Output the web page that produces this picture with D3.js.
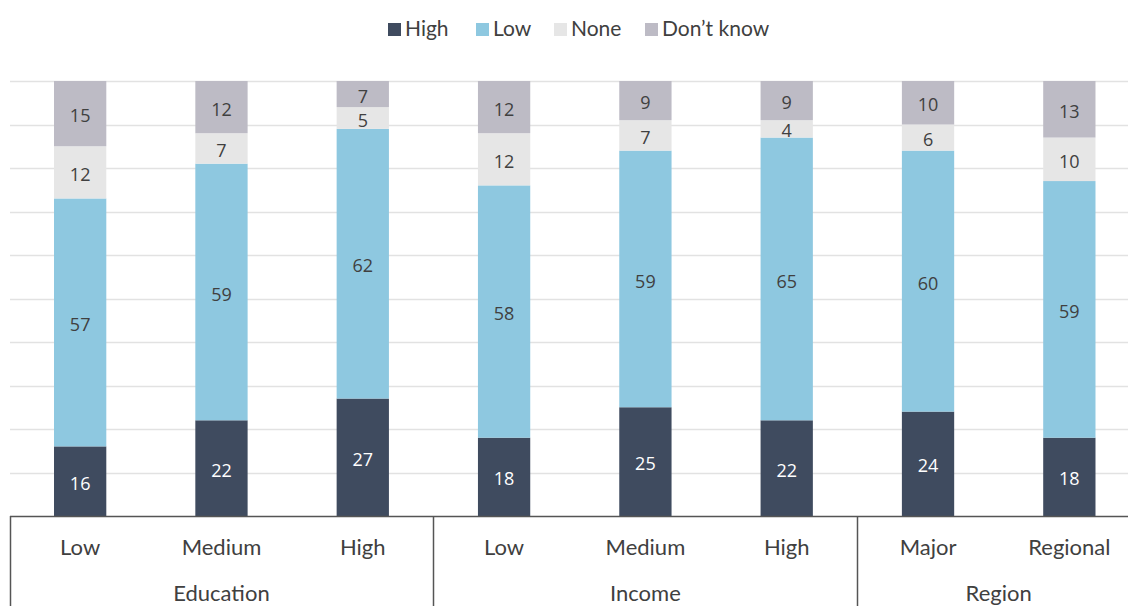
<!DOCTYPE html>
<html>
<head>
<meta charset="utf-8">
<script src="https://cdn.jsdelivr.net/npm/d3@7"></script>
<style>
  html, body { margin: 0; padding: 0; background: #fff; }
  svg { display: block; }
</style>
</head>
<body>
<svg id="chart" width="1128" height="606"></svg>
<script>
// Categories and their grouping
const categories = ["Low", "Medium", "High", "Low", "Medium", "High", "Major", "Regional"];
const groups = ["Education", "Education", "Education", "Income", "Income", "Income", "Region", "Region"];
const groupNames = ["Education", "Income", "Region"];

// Series values (percent)
const seriesNames = ["High", "Low", "None", "Don\u2019t know"];
const highValues = [16, 22, 27, 18, 25, 22, 24, 18];
const lowValues = [57, 59, 62, 58, 59, 65, 60, 59];
const noneValues = [12, 7, 5, 12, 7, 4, 6, 10];
const dontKnowValues = [15, 12, 7, 12, 9, 9, 10, 13];

const colors = ["#3f4b5f", "#8ec8e0", "#e6e6e6", "#bdbbc5"];
const labelColors = ["#ffffff", "#404040", "#404040", "#404040"];

const svg = d3.select("#chart");
const plotTop = 81, plotBottom = 516;

const rows = categories.map((c, i) => ({
  idx: i, cat: c, group: groups[i],
  High: highValues[i], Low: lowValues[i], None: noneValues[i], "Don\u2019t know": dontKnowValues[i]
}));

const x = d3.scaleBand().domain(d3.range(categories.length)).range([9.5, 1140]).paddingInner(0.63).paddingOuter(0.315);
// Axis runs 0–100; stacks that round above 100 are cut at the top edge
const y = d3.scaleLinear().domain([0, 100]).range([plotBottom, plotTop]).clamp(true);

// Gridlines
svg.append("g").selectAll("line").data(d3.range(10, 101, 10)).join("line")
  .attr("x1", 10).attr("x2", 1128)
  .attr("y1", d => Math.round(y(d)) + 0.5).attr("y2", d => Math.round(y(d)) + 0.5)
  .attr("stroke", "#e2e2e2").attr("stroke-width", 1.5);

// Stacked bars
const stack = d3.stack().keys(seriesNames)(rows);
const layers = svg.append("g").selectAll("g").data(stack).join("g")
  .attr("fill", (d, i) => colors[i]);
layers.selectAll("rect").data(d => d).join("rect")
  .attr("x", d => x(d.data.idx))
  .attr("width", x.bandwidth())
  .attr("y", d => y(d[1]))
  .attr("height", d => y(d[0]) - y(d[1]));

// Value labels
const lab = svg.append("g").selectAll("g").data(stack).join("g")
  .attr("fill", (d, i) => labelColors[i]);
lab.selectAll("text").data(d => d).join("text")
  .attr("x", d => x(d.data.idx) + x.bandwidth() / 2)
  .attr("y", d => (y(d[0]) + y(d[1])) / 2)
  .attr("dy", "0.48em")
  .attr("text-anchor", "middle")
  .attr("font-family", "'Open Sans', sans-serif")
  .attr("font-size", 18)
  .text(d => d[1] - d[0]);

// Category axis
const axisColor = "#555";
svg.append("line").attr("x1", 10).attr("x2", 1128).attr("y1", plotBottom + 0.5).attr("y2", plotBottom + 0.5)
  .attr("stroke", axisColor).attr("stroke-width", 1.5);

svg.append("g").selectAll("text").data(rows).join("text")
  .attr("x", d => x(d.idx) + x.bandwidth() / 2)
  .attr("y", 547)
  .attr("dy", "0.35em")
  .attr("text-anchor", "middle")
  .attr("font-family", "Lato, sans-serif")
  .attr("font-size", 22)
  .attr("fill", "#404040")
  .text(d => d.cat);

// Group separators and labels
const step = x.step();
const groupSpans = groupNames.map(g => {
  const idx = rows.filter(r => r.group === g).map(r => r.idx);
  return { name: g, start: x(d3.min(idx)) - step * x.paddingOuter(), end: x(d3.max(idx)) + x.bandwidth() + step * x.paddingOuter() };
});
svg.append("g").selectAll("line").data(groupSpans).join("line")
  .attr("x1", d => Math.round(d.start) + 0.5).attr("x2", d => Math.round(d.start) + 0.5)
  .attr("y1", plotBottom).attr("y2", 606)
  .attr("stroke", axisColor).attr("stroke-width", 1.5);

svg.append("g").selectAll("text").data(groupSpans).join("text")
  .attr("x", d => (d.start + d.end) / 2)
  .attr("y", 593)
  .attr("dy", "0.35em")
  .attr("text-anchor", "middle")
  .attr("font-family", "Lato, sans-serif")
  .attr("font-size", 22)
  .attr("fill", "#404040")
  .text(d => d.name);

// Legend
const legendX = [388, 476, 554, 645];
const legend = svg.append("g").selectAll("g").data(seriesNames).join("g")
  .attr("transform", (d, i) => `translate(${legendX[i]},29)`);
legend.append("rect").attr("x", 0).attr("y", -6).attr("width", 13).attr("height", 13)
  .attr("fill", (d, i) => colors[i]);
legend.append("text").attr("x", 17).attr("y", 0).attr("dy", "0.35em")
  .attr("font-family", "Lato, sans-serif").attr("font-size", 21).attr("fill", "#404040")
  .text(d => d);
</script>
</body>
</html>
